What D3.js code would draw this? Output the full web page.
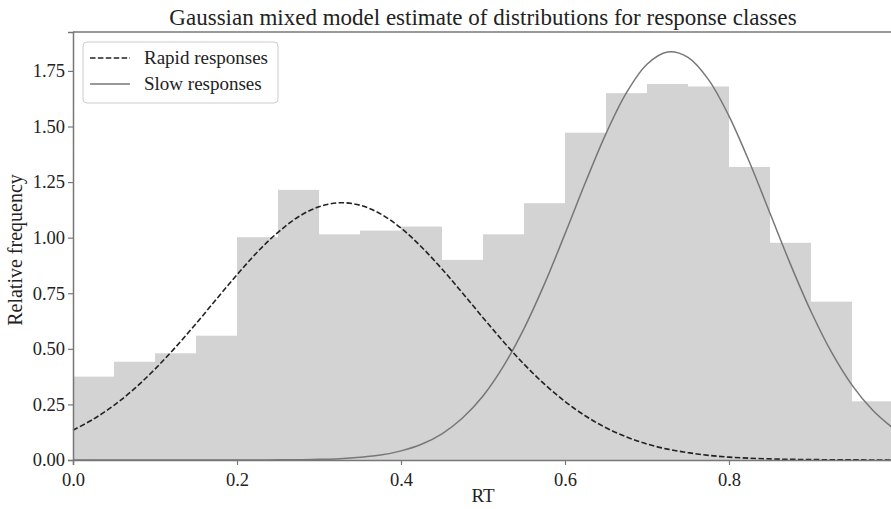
<!DOCTYPE html>
<html>
<head>
<meta charset="utf-8">
<script src="https://cdn.jsdelivr.net/npm/d3@7/dist/d3.min.js"></script>
<style>
  html, body { margin: 0; padding: 0; background: #fff; }
  svg { display: block; }
  svg text { font-family: "Liberation Serif", "Times New Roman", Tinos, "DejaVu Serif", serif !important; fill: #222; }
</style>
</head>
<body>
<div id="chart"></div>
<script>
// Histogram of response times (bin width 0.05), relative frequency per bin
const binStarts = [0.00, 0.05, 0.10, 0.15, 0.20, 0.25, 0.30, 0.35, 0.40, 0.45,
                   0.50, 0.55, 0.60, 0.65, 0.70, 0.75, 0.80, 0.85, 0.90, 0.95];
const binWidth = 0.05;
const binFreq = [0.375, 0.442, 0.480, 0.559, 1.002, 1.215, 1.015, 1.032, 1.050, 0.900,
                 1.015, 1.155, 1.472, 1.650, 1.691, 1.680, 1.318, 0.977, 0.712, 0.264];

// Fitted mixture components, sampled on an RT grid
const rtGrid = [0.000, 0.025, 0.050, 0.075, 0.100, 0.125, 0.150, 0.175, 0.200, 0.225,
                0.250, 0.275, 0.300, 0.325, 0.350, 0.375, 0.400, 0.425, 0.450, 0.475,
                0.500, 0.525, 0.550, 0.575, 0.600, 0.625, 0.650, 0.675, 0.700, 0.725,
                0.750, 0.775, 0.800, 0.825, 0.850, 0.875, 0.900, 0.925, 0.950, 0.975, 1.000];
const rapidDensity = [0.134, 0.184, 0.246, 0.321, 0.409, 0.507, 0.613, 0.724, 0.833, 0.936,
                      1.024, 1.094, 1.139, 1.157, 1.146, 1.107, 1.043, 0.958, 0.859, 0.751,
                      0.640, 0.532, 0.431, 0.341, 0.263, 0.198, 0.145, 0.104, 0.072, 0.049,
                      0.033, 0.021, 0.013, 0.008, 0.005, 0.003, 0.002, 0.001, 0.001, 0.000, 0.000];
const slowDensity = [0.000, 0.000, 0.000, 0.000, 0.000, 0.000, 0.000, 0.000, 0.000, 0.000,
                     0.001, 0.001, 0.003, 0.006, 0.012, 0.022, 0.041, 0.071, 0.118, 0.189,
                     0.288, 0.422, 0.591, 0.792, 1.017, 1.249, 1.468, 1.652, 1.780, 1.835,
                     1.811, 1.711, 1.547, 1.339, 1.110, 0.880, 0.668, 0.485, 0.337, 0.225, 0.143];

const xTicks = [0.0, 0.2, 0.4, 0.6, 0.8];
const yTicks = [0.00, 0.25, 0.50, 0.75, 1.00, 1.25, 1.50, 1.75];
const seriesNames = ["Rapid responses", "Slow responses"];

const serif = "'Liberation Serif', 'Times New Roman', Tinos, 'DejaVu Serif', serif";

const W = 891, H = 509;
const margin = { left: 73, top: 32, right: -2, bottom: 49 };
const plotW = W - margin.left - margin.right;
const plotH = H - margin.top - margin.bottom;

const svg = d3.select("#chart").append("svg")
  .attr("width", W).attr("height", H);

const x = d3.scaleLinear().domain([0, 1]).range([margin.left, margin.left + plotW]);
const y = d3.scaleLinear().domain([0, 1.925]).range([margin.top + plotH, margin.top]);

// histogram bars
svg.append("g").selectAll("rect")
  .data(binStarts.map((s, i) => ({ s, f: binFreq[i] })))
  .join("rect")
  .attr("x", d => x(d.s))
  .attr("width", d => x(d.s + binWidth) - x(d.s))
  .attr("y", d => y(d.f))
  .attr("height", d => y(0) - y(d.f))
  .attr("fill", "#d3d3d3");

const line = arr => d3.line()
  .x((d, i) => x(rtGrid[i]))
  .y(d => y(d))
  .curve(d3.curveCatmullRom)(arr);

svg.append("path")
  .attr("d", line(slowDensity))
  .attr("fill", "none")
  .attr("stroke", "#777")
  .attr("stroke-width", 1.5);

svg.append("path")
  .attr("d", line(rapidDensity))
  .attr("fill", "none")
  .attr("stroke", "#222")
  .attr("stroke-width", 1.6)
  .attr("stroke-dasharray", "5.5,2.4");

// axes
const xAxis = svg.append("g")
  .attr("transform", `translate(0,${y(0)})`)
  .call(d3.axisBottom(x).tickValues(xTicks).tickFormat(d3.format(".1f")).tickSizeOuter(0).tickSize(5));
const yAxis = svg.append("g")
  .attr("transform", `translate(${x(0)},0)`)
  .call(d3.axisLeft(y).tickValues(yTicks).tickFormat(d3.format(".2f")).tickSizeOuter(0).tickSize(5));

[xAxis, yAxis].forEach(g => {
  g.attr("font-family", serif);
  g.select(".domain").attr("stroke", "#777").attr("stroke-width", 1.5);
  g.selectAll(".tick line").attr("stroke", "#777").attr("stroke-width", 1.2);
  g.selectAll(".tick text")
    .style("font-size", "18.5px")
    .attr("fill", "#222");
});
xAxis.selectAll(".tick text").attr("dy", "0.95em");
yAxis.selectAll(".tick text").attr("x", -8);

// top spine
svg.append("line")
  .attr("x1", x(0)).attr("x2", W + 5)
  .attr("y1", y.range()[1]).attr("y2", y.range()[1])
  .attr("stroke", "#777").attr("stroke-width", 1.5);

// title and axis labels
svg.append("text")
  .attr("x", x(0.5)).attr("y", 25)
  .attr("text-anchor", "middle")
  .style("font-size", "23px")
  .text("Gaussian mixed model estimate of distributions for response classes");

svg.append("text")
  .attr("x", x(0.5)).attr("y", 502)
  .attr("text-anchor", "middle")
  .style("font-size", "19px")
  .text("RT");

svg.append("text")
  .attr("transform", `translate(22,250) rotate(-90)`)
  .attr("text-anchor", "middle")
  .style("font-size", "20px")
  .text("Relative frequency");

// legend
const lg = svg.append("g");
lg.append("rect")
  .attr("x", 83).attr("y", 42).attr("width", 195).attr("height", 61)
  .attr("rx", 4).attr("ry", 4)
  .attr("fill", "#fff").attr("fill-opacity", 0.8)
  .attr("stroke", "#ccc").attr("stroke-width", 1);
const legendItems = [
  { name: seriesNames[0], stroke: "#222", dash: "5.5,2.4", w: 1.6 },
  { name: seriesNames[1], stroke: "#777", dash: null, w: 1.5 }
];
legendItems.forEach((it, i) => {
  const yy = 58 + i * 26;
  lg.append("line")
    .attr("x1", 90).attr("x2", 130).attr("y1", yy).attr("y2", yy)
    .attr("stroke", it.stroke).attr("stroke-width", it.w)
    .attr("stroke-dasharray", it.dash);
  lg.append("text")
    .attr("x", 144).attr("y", yy + 6)
    .style("font-size", "19px")
    .text(it.name);
});
</script>
</body>
</html>
